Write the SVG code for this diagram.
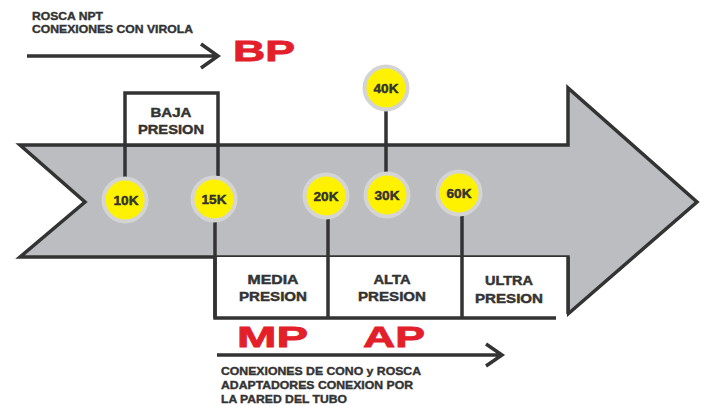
<svg xmlns="http://www.w3.org/2000/svg" width="701" height="405" viewBox="0 0 701 405">
<style>
.t{font-family:"Liberation Sans",Arial,sans-serif;font-weight:bold;fill:#333;stroke:#333;stroke-width:0.45;}
.lbl{font-size:13px;text-anchor:middle;}
.note{font-size:10px;stroke-width:0.35;}
.big{font-family:"Liberation Sans",Arial,sans-serif;font-weight:bold;font-size:30px;fill:#e3202a;stroke:#e3202a;stroke-width:0.8;}
.ln{stroke:#333;stroke-width:3.5;fill:none;}
.ring{fill:#fff200;stroke:#d4d4d4;stroke-width:4;}
.box{fill:#fff;stroke:#333;stroke-width:3.5;}
</style>
<rect width="701" height="405" fill="#fff"/>
<g id="arrow-body">
<polygon points="20,145 568,145 568,88 697,202 568,314 568,257 20,257 85,202" fill="#bcbdc0" stroke="#333" stroke-width="3.5" stroke-linejoin="miter"/>
</g>
<g id="box-baja">
<rect x="125" y="93" width="93" height="52" class="box"/>
<text class="t lbl" x="171" y="117" textLength="41" lengthAdjust="spacingAndGlyphs">BAJA</text>
<text class="t lbl" x="171" y="134" textLength="66" lengthAdjust="spacingAndGlyphs">PRESION</text>
</g>
<g id="boxes-bottom">
<rect x="215" y="257" width="352" height="61" fill="#fff"/>
<path class="ln" d="M215,257 V318 H556"/>
<line class="ln" x1="568" y1="257" x2="568" y2="314"/>
</g>
<g id="box-media">
<text class="t lbl" x="273" y="284" textLength="51" lengthAdjust="spacingAndGlyphs">MEDIA</text>
<text class="t lbl" x="273" y="301" textLength="68" lengthAdjust="spacingAndGlyphs">PRESION</text>
</g>
<g id="box-alta">
<text class="t lbl" x="392" y="284" textLength="37" lengthAdjust="spacingAndGlyphs">ALTA</text>
<text class="t lbl" x="392" y="301" textLength="68" lengthAdjust="spacingAndGlyphs">PRESION</text>
</g>
<g id="box-ultra">
<text class="t lbl" x="509" y="285" textLength="48" lengthAdjust="spacingAndGlyphs">ULTRA</text>
<text class="t lbl" x="509" y="303" textLength="68" lengthAdjust="spacingAndGlyphs">PRESION</text>
</g>
<g id="connectors">
<line class="ln" x1="125" y1="145" x2="125" y2="177"/>
<line class="ln" x1="218" y1="145" x2="218" y2="176"/>
<line class="ln" x1="215" y1="222" x2="215" y2="318"/>
<line class="ln" x1="328" y1="218" x2="328" y2="318"/>
<line class="ln" x1="462" y1="216" x2="462" y2="318"/>
<line class="ln" x1="386" y1="110" x2="386" y2="172"/>
<path class="ln" d="M27,56 H217 M201,44 L218,56 L201,68"/>
<path class="ln" d="M217,355 H500 M486,344 L502,355 L486,366"/>
</g>
<g id="n10k"><circle class="ring" cx="125" cy="200" r="21.5"/><text class="t lbl" x="126" y="205" textLength="25" lengthAdjust="spacingAndGlyphs">10K</text></g>
<g id="n15k"><circle class="ring" cx="214" cy="199" r="21.5"/><text class="t lbl" x="214" y="204" textLength="25" lengthAdjust="spacingAndGlyphs">15K</text></g>
<g id="n20k"><circle class="ring" cx="326" cy="196" r="21.5"/><text class="t lbl" x="326" y="201" textLength="25" lengthAdjust="spacingAndGlyphs">20K</text></g>
<g id="n30k"><circle class="ring" cx="387" cy="195" r="21.5"/><text class="t lbl" x="387" y="200" textLength="25" lengthAdjust="spacingAndGlyphs">30K</text></g>
<g id="n40k"><circle class="ring" cx="386" cy="88" r="21.5"/><text class="t lbl" x="386" y="93" textLength="25" lengthAdjust="spacingAndGlyphs">40K</text></g>
<g id="n60k"><circle class="ring" cx="459" cy="193" r="21.5"/><text class="t lbl" x="459" y="198" textLength="25" lengthAdjust="spacingAndGlyphs">60K</text></g>
<g id="top-note">
<text class="t note" x="32" y="20" textLength="71" lengthAdjust="spacingAndGlyphs">ROSCA NPT</text>
<text class="t note" x="32" y="33" textLength="161" lengthAdjust="spacingAndGlyphs">CONEXIONES CON VIROLA</text>
<text class="big" x="233" y="61" textLength="62" lengthAdjust="spacingAndGlyphs">BP</text>
</g>
<g id="bottom-note">
<text class="big" x="237" y="347" textLength="71" lengthAdjust="spacingAndGlyphs">MP</text>
<text class="big" x="363" y="347" textLength="62" lengthAdjust="spacingAndGlyphs">AP</text>
<text class="t note" x="221" y="375" textLength="200" lengthAdjust="spacingAndGlyphs">CONEXIONES DE CONO y ROSCA</text>
<text class="t note" x="221" y="389" textLength="192" lengthAdjust="spacingAndGlyphs">ADAPTADORES CONEXION POR</text>
<text class="t note" x="221" y="403" textLength="126" lengthAdjust="spacingAndGlyphs">LA PARED DEL TUBO</text>
</g>
</svg>
